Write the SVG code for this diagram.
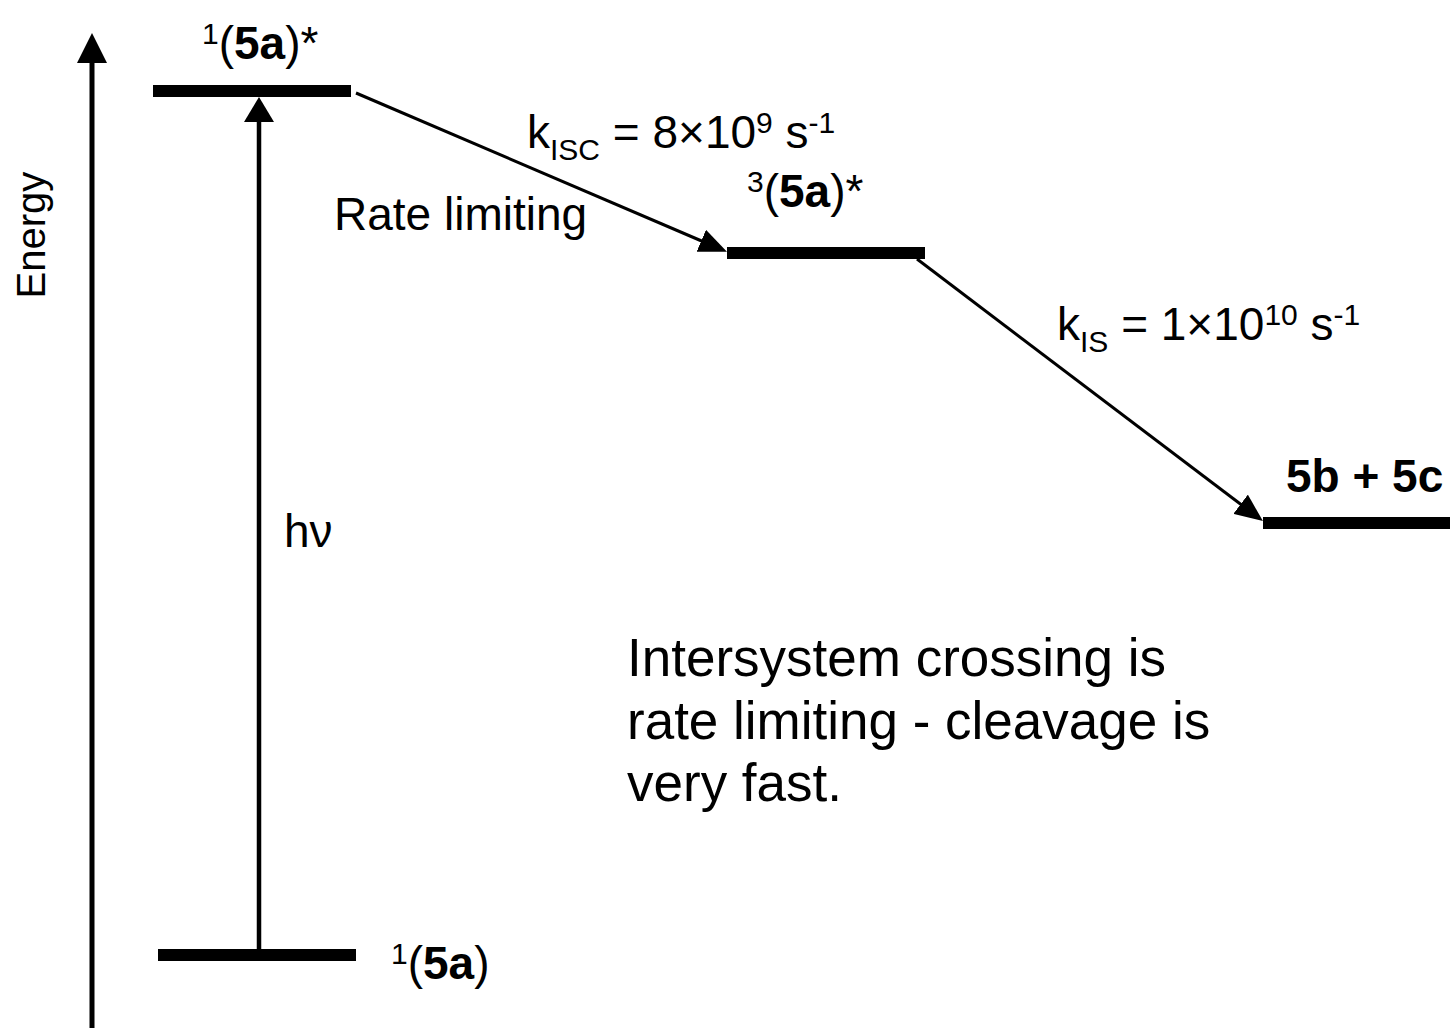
<svg xmlns="http://www.w3.org/2000/svg" width="1450" height="1033" viewBox="0 0 1450 1033">
<style>
text{font-family:"Liberation Sans",Arial,sans-serif;fill:#000}
.lbl{font-size:46px}
.main{font-size:53px}
.sub{font-size:30px}
.bold{font-weight:bold}
.bar{fill:#000}
.ln{stroke:#000;fill:none}
</style>
<defs>
<marker id="ahAxis" viewBox="0 0 30 30" markerWidth="30" markerHeight="30" refX="3" refY="15" orient="auto" markerUnits="userSpaceOnUse"><path d="M0,0 L30,15 L0,30 z" fill="#000"/></marker>
<marker id="ahHv" viewBox="0 0 25 30" markerWidth="25" markerHeight="30" refX="3" refY="15" orient="auto" markerUnits="userSpaceOnUse"><path d="M0,0 L25,15 L0,30 z" fill="#000"/></marker>
<marker id="ahDiag" viewBox="0 0 28 24" markerWidth="28" markerHeight="24" refX="3" refY="12" orient="auto" markerUnits="userSpaceOnUse"><path d="M0,0 L28,12 L0,24 z" fill="#000"/></marker>
</defs>
<rect width="1450" height="1033" fill="#fff"/>
<g id="axis">
<line class="ln" x1="92" y1="1028" x2="92" y2="60" stroke-width="5" marker-end="url(#ahAxis)"/>
<text transform="translate(45,235) rotate(-90)" text-anchor="middle" style="font-size:40px">Energy</text>
</g>
<g id="connectors">
<line class="ln" x1="259" y1="950" x2="259" y2="119" stroke-width="4.5" marker-end="url(#ahHv)"/>
<line class="ln" x1="356" y1="93" x2="704" y2="242" stroke-width="3" marker-end="url(#ahDiag)"/>
<line class="ln" x1="917" y1="259" x2="1243" y2="506" stroke-width="3" marker-end="url(#ahDiag)"/>
<text class="lbl" x="284" y="547">hν</text>
<text class="lbl" x="527" y="148">k<tspan class="sub" dy="12">ISC</tspan><tspan dy="-12"> = 8×10</tspan><tspan class="sub" dy="-15">9</tspan><tspan dy="15"> s</tspan><tspan class="sub" dy="-15">-1</tspan></text>
<text class="lbl" x="334" y="230">Rate limiting</text>
<text class="lbl" x="1057" y="340">k<tspan class="sub" dy="12">IS</tspan><tspan dy="-12"> = 1×10</tspan><tspan class="sub" dy="-15">10</tspan><tspan dy="15"> s</tspan><tspan class="sub" dy="-15">-1</tspan></text>
</g>
<g id="s1star">
<rect class="bar" x="153" y="85" width="198" height="12"/>
<text class="lbl" x="202" y="59"><tspan class="sub" dy="-15">1</tspan><tspan dy="15">(</tspan><tspan class="bold">5a</tspan>)*</text>
</g>
<g id="t1star">
<rect class="bar" x="727" y="247" width="198" height="12"/>
<text class="lbl" x="747" y="207"><tspan class="sub" dy="-15">3</tspan><tspan dy="15">(</tspan><tspan class="bold">5a</tspan>)*</text>
</g>
<g id="s0">
<rect class="bar" x="158" y="949" width="198" height="12"/>
<text class="lbl" x="391" y="979"><tspan class="sub" dy="-15">1</tspan><tspan dy="15">(</tspan><tspan class="bold">5a</tspan>)</text>
</g>
<g id="products">
<rect class="bar" x="1263" y="517" width="187" height="12"/>
<text class="lbl bold" x="1286" y="492">5b + 5c</text>
</g>
<g id="note">
<text class="main" x="627" y="676">Intersystem crossing is</text>
<text class="main" x="627" y="739">rate limiting - cleavage is</text>
<text class="main" x="627" y="801">very fast.</text>
</g>
</svg>
